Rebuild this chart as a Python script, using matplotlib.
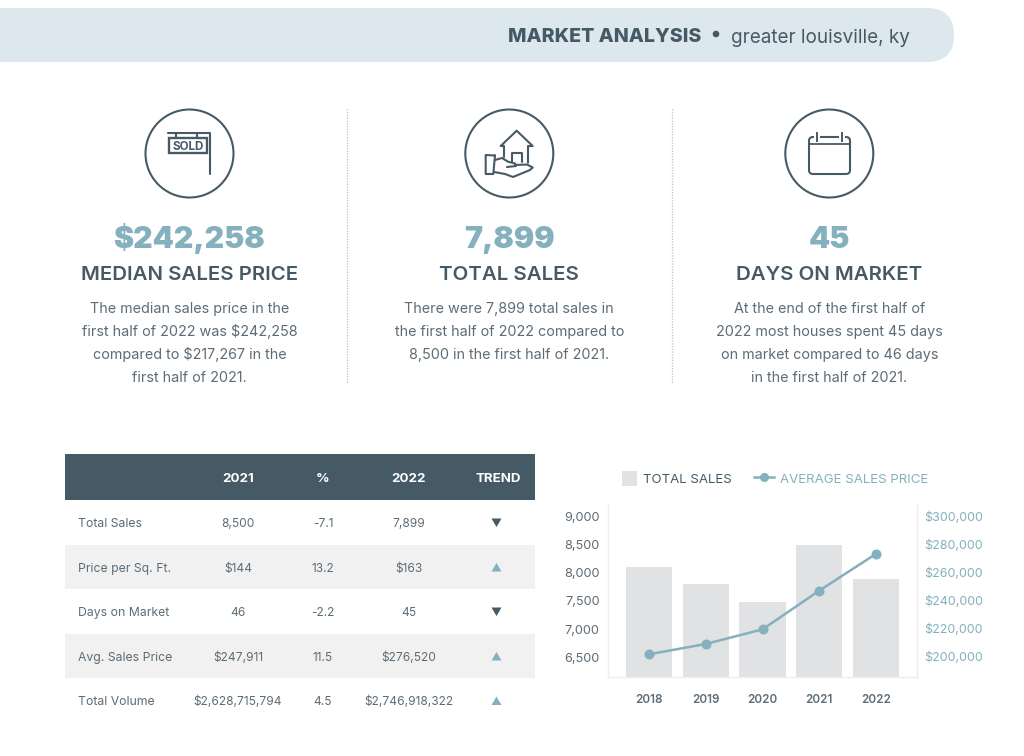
import matplotlib
matplotlib.use("Agg")
import matplotlib.pyplot as plt
from matplotlib.patches import FancyBboxPatch, Rectangle, Circle, Polygon, Patch
from matplotlib.lines import Line2D
from matplotlib.legend_handler import HandlerPatch

# ---- data ----
years = ["2018", "2019", "2020", "2021", "2022"]
total_sales = [8110, 7812, 7480, 8500, 7885]
avg_price = [201200, 208600, 219000, 246700, 273000]
left_ticks = [6500, 7000, 7500, 8000, 8500, 9000]
right_ticks = [200000, 220000, 240000, 260000, 280000, 300000]

kpi_values = ["$242,258", "7,899", "45"]
kpi_titles = ["MEDIAN SALES PRICE", "TOTAL SALES", "DAYS ON MARKET"]
kpi_bodies = [
    ["The median sales price in the", "first half of 2022 was $242,258",
     "compared to $217,267 in the", "first half of 2021."],
    ["There were 7,899 total sales in", "the first half of 2022 compared to",
     "8,500 in the first half of 2021."],
    ["At the end of the first half of", "2022 most houses spent 45 days",
     "on market compared to 46 days", "in the first half of 2021."],
]
table_header = ["2021", "%", "2022", "TREND"]
table_labels = ["Total Sales", "Price per Sq. Ft.", "Days on Market", "Avg. Sales Price", "Total Volume"]
table_2021 = ["8,500", "$144", "46", "$247,911", "$2,628,715,794"]
table_pct = ["-7.1", "13.2", "-2.2", "11.5", "4.5"]
table_2022 = ["7,899", "$163", "45", "$276,520", "$2,746,918,322"]
table_trend = ["down", "up", "down", "up", "up"]

# ---- style ----
plt.rcParams["font.family"] = ["Inter", "DejaVu Sans"]
DARK = "#465a66"
TEXT = "#5d6c76"
TEAL = "#84b1bd"
BAND = "#dce8ed"
BAR = "#e1e2e4"
ROW = "#f1f1f1"

fig = plt.figure(figsize=(10.24, 7.56), dpi=100, facecolor="white")
bg = fig.add_axes([0, 0, 1, 1])
bg.set_xlim(0, 1024)
bg.set_ylim(756, 0)
bg.axis("off")

# header band
bg.add_patch(FancyBboxPatch((-60, 8), 1014, 54, boxstyle="round,pad=0,rounding_size=27",
                            fc=BAND, ec="none"))
bg.text(508, 42, "MARKET ANALYSIS", fontsize=14.1, fontweight="heavy", color=DARK)
bg.add_patch(Circle((716, 34), 3.3, fc=DARK, ec="none"))
bg.text(731, 43, "greater louisville, ky", fontsize=13.6, color=DARK)

# dividers
for x in (347, 672):
    bg.plot([x, x], [109, 383], color="#a9c9d2", lw=0.9, ls=(0, (1, 1.2)))

# KPI columns
centers = [189.5, 509.3, 829.3]
for cx, val, title, body in zip(centers, kpi_values, kpi_titles, kpi_bodies):
    bg.add_patch(Circle((cx, 153.5), 44, fc="none", ec=DARK, lw=1.5))
    bg.text(cx, 248, val, ha="center", fontsize=21.8, fontweight="black", color=TEAL)
    bg.text(cx, 279.5, title, ha="center", fontsize=14.7, fontweight="semibold", color=DARK)
    for i, line in enumerate(body):
        bg.text(cx, 313 + i * 23, line, ha="center", fontsize=10.35, color=TEXT)

# icon helper
def stroke(xs, ys, lw=1.5):
    bg.plot(xs, ys, color=DARK, lw=lw, solid_capstyle="round", solid_joinstyle="round")

# SOLD sign
stroke([168, 209.5, 209.5], [133, 133, 174])
stroke([176, 176], [133, 138])
stroke([197, 197], [133, 138])
bg.add_patch(Rectangle((169, 138), 38, 15, fc="none", ec=DARK, lw=1.7))
bg.text(188, 149.5, "SOLD", ha="center", fontsize=8.4, fontweight="bold", color=DARK)

# house in hand
stroke([504, 504, 500.7, 516.7, 532.7, 528, 528], [157, 146, 146, 130.7, 146, 146, 162.7])
stroke([511.7, 511.7, 521.7, 521.7], [162, 153, 153, 162])
stroke([495, 485.7, 485.7, 493.3, 495], [155.5, 155, 174, 174, 155.5])
stroke([495, 502, 508, 515, 516, 507], [160, 158, 161.7, 163.5, 166, 167])
stroke([515, 527, 532.7, 530, 513, 505, 494], [165, 164.5, 167.5, 170, 177, 174, 172])

# calendar
bg.add_patch(FancyBboxPatch((809, 137), 41, 37, boxstyle="round,pad=0,rounding_size=4",
                            fc="none", ec=DARK, lw=1.5))
stroke([809, 850], [144, 144], lw=1.3)
for rx in (816.7, 841.7):
    bg.add_patch(Rectangle((rx - 3, 134), 6, 6, fc="white", ec="none", zorder=3))
    bg.plot([rx, rx], [133, 141], color=DARK, lw=1.4, zorder=4)

# table
bg.add_patch(Rectangle((65, 454), 470, 46, fc=DARK, ec="none"))
col_x = [238, 323, 409, 498]
for x, h in zip(col_x, table_header):
    bg.text(x, 482, h, ha="center", fontsize=9.6, fontweight="bold", color="white")
row_y = [522.5, 567, 611.5, 656, 700.5]
for i, y in enumerate(row_y):
    if i % 2 == 1:
        bg.add_patch(Rectangle((65, y - 22.2), 470, 44.4, fc=ROW, ec="none"))
    bg.text(78, y + 4.6, table_labels[i], fontsize=8.8, color=TEXT)
    bg.text(col_x[0], y + 4.6, table_2021[i], ha="center", fontsize=8.6, color=TEXT)
    bg.text(col_x[1], y + 4.6, table_pct[i], ha="center", fontsize=8.6, color=TEXT)
    bg.text(col_x[2], y + 4.6, table_2022[i], ha="center", fontsize=8.6, color=TEXT)
    if table_trend[i] == "down":
        bg.add_patch(Polygon([(491.5, y - 4), (501.5, y - 4), (496.5, y + 4.5)], fc=DARK, ec="none"))
    else:
        bg.add_patch(Polygon([(491.5, y + 4.5), (501.5, y + 4.5), (496.5, y - 4)], fc=TEAL, ec="none"))

# combo chart
ax = fig.add_axes([608 / 1024, 1 - 677 / 756, 309 / 1024, 172 / 756])
ax.patch.set_alpha(0)
xs = list(range(len(years)))
ax.bar(xs, total_sales, width=0.81, color=BAR, zorder=2)
ax.set_xlim(-0.72, 4.72)
ax.set_ylim(6143, 9214)
ax.set_yticks(left_ticks)
ax.set_yticklabels([f"{v:,}" for v in left_ticks], fontsize=9.2, color=TEXT)
ax.set_xticks(xs)
ax.set_xticklabels(years, fontsize=8.4, fontweight="semibold", color=TEXT)
ax.tick_params(axis="both", length=0)
ax.tick_params(axis="y", pad=6)
ax.tick_params(axis="x", pad=12)
ax.spines["top"].set_visible(False)
for name in ("left", "right", "bottom"):
    ax.spines[name].set_color("#eeeeee")
    ax.spines[name].set_linewidth(1)

ax2 = ax.twinx()
ax2.plot(xs, avg_price, color=TEAL, lw=1.8, marker="o", ms=6.2, zorder=5)
ax2.set_ylim(185000, 307857)
ax2.set_yticks(right_ticks)
ax2.set_yticklabels([f"${v:,}" for v in right_ticks], fontsize=9, color=TEAL)
ax2.tick_params(axis="y", length=0, pad=5.5)
for s in ax2.spines.values():
    s.set_visible(False)


def square_handle(legend, orig_handle, xdescent, ydescent, width, height, fontsize):
    side = 10.8
    return Rectangle((width - side - xdescent, height / 2 - side / 2 - ydescent), side, side)


fig.legend(
    handles=[Patch(fc=BAR, ec="none"),
             Line2D([0], [0], color=TEAL, lw=1.8, marker="o", ms=5.5)],
    labels=["TOTAL SALES", "AVERAGE SALES PRICE"],
    labelcolor=[DARK, TEAL],
    ncol=2, frameon=False, fontsize=9.55,
    loc="center left", bbox_to_anchor=(617 / 1024, 1 - 478.5 / 756),
    handlelength=1.5, handleheight=1.2, handletextpad=0.45, columnspacing=1.7,
    borderpad=0, borderaxespad=0,
    handler_map={Patch: HandlerPatch(patch_func=square_handle)},
)

fig.savefig("out.png", dpi=100)
